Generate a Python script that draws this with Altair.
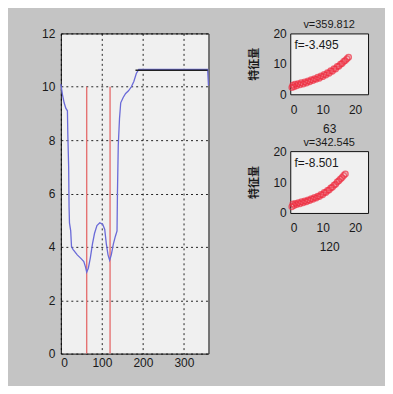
import altair as alt
import pandas as pd

# ---- main panel data ----
curve_x = [0, 4, 8, 12, 16, 17, 19, 20, 21, 24, 26, 30, 40, 50, 56, 60, 63, 67, 72, 77,
           82, 88, 95, 102, 107, 111, 115, 119, 123, 128, 133, 137, 138, 140, 143, 146,
           152, 158, 165, 172, 178, 184, 190, 358, 360]
curve_y = [10.1, 9.7, 9.4, 9.2, 9.1, 8.2, 7.0, 5.5, 4.9, 4.6, 4.0, 3.9, 3.7, 3.55, 3.45,
           3.25, 3.05, 3.2, 3.6, 4.1, 4.5, 4.8, 4.9, 4.85, 4.65, 4.1, 3.7, 3.5, 3.7, 4.1,
           4.4, 4.6, 6.0, 7.8, 8.8, 9.4, 9.6, 9.75, 9.85, 10.0, 10.2, 10.5, 10.65, 10.65, 10.05]
flat_x = [182, 358]
flat_y = [10.62, 10.62]
marker_x = [63, 120]
marker_bottom = [0, 0]
marker_top = [10, 10]
main_xticks = [0, 100, 200, 300]
main_yticks = [0, 2, 4, 6, 8, 10, 12]

# ---- small panels data ----
s1_x = [0.5, 0.8, 1.2, 1.5, 2.0, 2.4, 3.0, 3.4, 4.0, 4.5, 5.0, 5.5, 6.0, 6.5, 7.0, 7.5,
        8.0, 8.5, 9.0, 9.5, 10.0, 10.5, 11.0, 11.5, 12.0, 12.5, 13.0, 13.5, 14.0, 14.5,
        15.0, 15.5, 16.0, 16.5, 17.0, 17.5, 18.0]
s1_y = [2.2, 3.0, 2.5, 3.3, 2.8, 3.5, 3.1, 3.8, 3.4, 4.0, 3.7, 4.4, 4.1, 4.8, 4.5, 5.1,
        4.9, 5.6, 5.3, 6.0, 5.8, 6.5, 6.3, 7.1, 6.9, 7.7, 7.6, 8.4, 8.3, 9.1, 9.2, 9.9,
        10.1, 10.8, 11.1, 11.7, 12.2]
s2_x = [0.5, 0.8, 1.2, 1.6, 2.0, 2.5, 3.0, 3.5, 4.0, 4.5, 5.0, 5.5, 6.0, 6.5, 7.0, 7.5,
        8.0, 8.5, 9.0, 9.5, 10.0, 10.5, 11.0, 11.5, 12.0, 12.5, 13.0, 13.5, 14.0, 14.5,
        15.0, 15.5, 16.0, 16.5, 17.0]
s2_y = [2.0, 2.9, 2.4, 3.1, 2.7, 3.3, 3.0, 3.6, 3.3, 3.9, 3.6, 4.2, 4.0, 4.6, 4.4, 5.0,
        4.8, 5.4, 5.3, 6.0, 5.9, 6.6, 6.6, 7.3, 7.4, 8.1, 8.3, 9.0, 9.3, 10.0, 10.4, 11.0,
        11.5, 12.1, 12.6]
small_titles = ["v=359.812", "v=342.545"]
small_notes = ["f=-3.495", "f=-8.501"]
small_xlabels = ["63", "120"]
small_ylabel = "特征量"
note_pos = [1.3, 16.3]
small_ticks = [0, 10, 20]

FONT = "Liberation Sans"
TXT = "#1a1a1a"

# ---- main panel ----
xs = alt.Scale(domain=[0, 360], nice=False)
ys = alt.Scale(domain=[0, 12], nice=False)
grid_axis = dict(grid=True, gridColor="#000000", gridDash=[2, 3], gridOpacity=0.85,
                 gridWidth=1, ticks=False, tickSize=0, domain=False, labelOverlap=False,
                 tickCount=10, labelFont=FONT, labelFontSize=12, labelColor=TXT, title=None)

curve_df = pd.DataFrame({"x": curve_x, "y": curve_y})
flat_df = pd.DataFrame({"x": flat_x, "y": flat_y})
marker_df = pd.DataFrame({"x": marker_x, "y": marker_bottom, "y2": marker_top})

line = alt.Chart(curve_df).mark_line(color="#6a6ad8", strokeWidth=1.3).encode(
    x=alt.X("x:Q", scale=xs, axis=alt.Axis(values=main_xticks, labelPadding=4, **grid_axis)),
    y=alt.Y("y:Q", scale=ys, axis=alt.Axis(values=main_yticks, labelPadding=6, **grid_axis)),
)
flat = alt.Chart(flat_df).mark_line(color="#222222", strokeWidth=1.3).encode(
    x=alt.X("x:Q", scale=xs), y=alt.Y("y:Q", scale=ys)
)
rules = alt.Chart(marker_df).mark_rule(color="#e57272", strokeWidth=1.4).encode(
    x=alt.X("x:Q", scale=xs), y=alt.Y("y:Q", scale=ys), y2="y2:Q"
)
main = alt.layer(rules, line, flat).properties(width=148, height=321)


def small(px, py, title, note, xlabel, h):
    df = pd.DataFrame({"x": px, "y": py})
    ndf = pd.DataFrame({"x": [note_pos[0]], "y": [note_pos[1]], "t": [note]})
    sx = alt.Scale(domain=[0, 24], nice=False)
    sy = alt.Scale(domain=[0, 20], nice=False)
    ax = dict(grid=False, ticks=False, tickSize=0, domain=False, labelFont=FONT,
              labelFontSize=12, labelColor=TXT, titleColor=TXT, labelOverlap=False,
              tickCount=10)
    pts = alt.Chart(df).mark_point(shape="circle", filled=False, color="#ee2f42",
                                   size=30, strokeWidth=1.5).encode(
        x=alt.X("x:Q", scale=sx, axis=alt.Axis(values=small_ticks, labelPadding=10,
                                                title=xlabel, titleFont=FONT, titleFontSize=12,
                                                titleFontWeight="normal", titlePadding=8, **ax)),
        y=alt.Y("y:Q", scale=sy, axis=alt.Axis(values=small_ticks, labelPadding=4,
                                                title=small_ylabel, titleFont="Noto Sans CJK SC",
                                                titleFontSize=11, titleFontWeight="bold",
                                                titlePadding=13, **ax)),
    )
    txt = alt.Chart(ndf).mark_text(align="left", baseline="middle", font=FONT,
                                   fontSize=12, color=TXT).encode(
        x=alt.X("x:Q", scale=sx), y=alt.Y("y:Q", scale=sy), text="t:N"
    )
    return alt.layer(pts, txt).properties(
        width=78, height=h,
        title=alt.TitleParams(title, font=FONT, fontSize=11, fontWeight="normal",
                              color=TXT, offset=-3, anchor="middle"),
    )


s1 = small(s1_x, s1_y, small_titles[0], small_notes[0], small_xlabels[0], 61)
s2 = small(s2_x, s2_y, small_titles[1], small_notes[1], small_xlabels[1], 62)

right = alt.vconcat(s1, s2, spacing=57, bounds="flush")
chart = alt.hconcat(main, right, spacing=82, bounds="flush").properties(
    background="#c4c4c4",
    padding={"left": 33, "top": 10, "right": 16, "bottom": 16},
).configure_view(
    stroke="#111111", strokeWidth=1, fill="#f0f0f0"
)

chart.save("out.html", embed_options={"renderer": "svg", "actions": False})
